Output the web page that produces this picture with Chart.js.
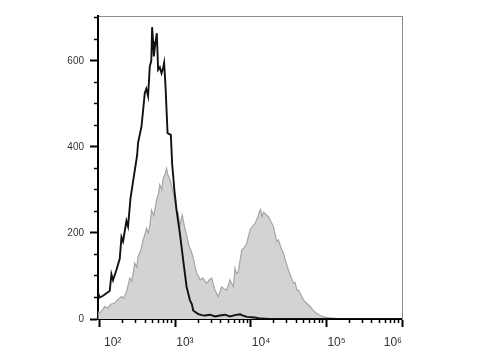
<!DOCTYPE html>
<html lang="en">
<head>
    <meta charset="UTF-8">
    <title>Histogram overlay</title>
    <script src="https://cdn.jsdelivr.net/npm/chart.js"></script>
    <style>
        body { margin: 0; background: #fff; }
        #chart { display: block; }
    </style>
</head>
<body>
    <canvas id="chart" width="480" height="360"></canvas>

    <script>
        // black outline: control (unstained) histogram
        const controlX = [95.5, 100, 110.6, 122.7, 135.7, 143, 150.1, 166.5, 184.2, 194.1, 203.7, 226, 237.3, 255.5, 276.5, 291.2, 312.5, 322.1, 357.3, 395.3, 413.8, 437.1, 460.4, 482, 493.9, 509.3, 520.3, 544.7, 570.2, 593.3, 625, 658.3, 684.9, 712.6, 743.7, 773.8, 790.5, 874.2, 909.6, 973, 1040, 1151, 1273, 1412, 1492, 1562, 1661, 1728, 1820, 1994, 2233, 2469, 2877, 3351, 3904, 4549, 5298, 6172, 7191, 7882, 8906, 10373, 11722, 13243, 17972, 44940, 206900, 1000000];
        const controlY = [60, 50, 54, 60, 65, 104, 90, 114, 140, 190, 180, 228, 215, 280, 320, 345, 380, 410, 447, 525, 535, 518, 587, 600, 678, 645, 610, 640, 664, 579, 585, 571, 580, 595, 540, 470, 432, 428, 360, 300, 253, 199, 137, 75, 58, 44, 34, 20, 17, 12, 9, 8, 10, 6, 8, 10, 6, 9, 11, 8, 5, 4, 3, 1, 0, 0, 0, 0];

        // grey filled: stained sample histogram
        const stainedX = [95.5, 100, 109.6, 116.5, 127.7, 139.9, 158.1, 173.3, 194.1, 208.1, 226, 238.8, 250, 265.7, 291.2, 309.5, 322.1, 349.9, 375.2, 395.3, 416.3, 439.8, 460.4, 485, 520.3, 564.9, 597, 625, 664.3, 691.3, 728, 766.6, 797.8, 822.5, 861, 909.6, 973, 1040, 1099.6, 1151, 1235, 1320, 1412, 1515, 1646, 1765, 1917, 2025, 2120, 2323, 2601, 2790, 3030, 3202, 3351, 3707, 4113, 4411, 4791, 5061, 5298, 5861, 6172, 6463, 6828, 7573, 8124, 8822, 9759, 10530, 11360, 12270, 12960, 13450, 13950, 14740, 15430, 16400, 17070, 17970, 19880, 22060, 23160, 25150, 26980, 29300, 31430, 33610, 36620, 38570, 40620, 42660, 46350, 49700, 55140, 60980, 66840, 74820, 82770, 91520, 105700, 124200, 152400, 1000000];
        const stainedY = [17, 14, 22, 29, 25, 34, 37, 45, 52, 48, 63, 80, 95, 88, 130, 120, 145, 160, 184, 195, 211, 200, 215, 253, 240, 277, 290, 312, 300, 327, 335, 350, 335, 331, 320, 304, 280, 253, 245, 215, 242, 215, 195, 170, 155, 135, 106, 100, 91, 95, 83, 90, 95, 80, 67, 52, 75, 70, 67, 80, 91, 75, 118, 105, 110, 160, 165, 176, 207, 215, 222, 235, 250, 255, 238, 248, 245, 240, 238, 230, 215, 180, 184, 165, 153, 130, 114, 100, 83, 85, 67, 67, 55, 44, 36, 29, 20, 13, 8, 5, 3, 2, 0, 0];

        // axes
        const xMajorTicks = [100, 1000, 10000, 100000, 1000000];
        const xTickLabels = [' 10²', '10³', '10⁴', '10⁵', '10⁶'];
        const xMinorTicks = [];
        for (let d = 100; d < 1000000; d *= 10) {
            for (let k = 2; k <= 9; k++) xMinorTicks.push(k * d);
        }
        const yMajorTicks = [0, 200, 400, 600];
        const yTickLabels = ['0', '200', '400', '600'];
        const yMinorTicks = [50, 100, 150, 250, 300, 350, 450, 500, 550, 650, 700];

        const X_MIN = 95, X_MAX = 1000000, Y_MAX = 704;
        const FONT = 'Liberation Sans, Arial, sans-serif';
        const LABEL_PAD = 8;

        const pairs = (xs, ys) => xs.map((x, i) => ({x: x, y: ys[i]}));
        const setTicks = list => scale => { scale.ticks = list.map(v => ({value: v})); };

        new Chart(document.getElementById('chart'), {
            type: 'line',
            data: {
                datasets: [
                    {
                        label: 'Control',
                        data: pairs(controlX, controlY),
                        borderColor: '#111',
                        borderWidth: 1.9,
                        pointRadius: 0,
                        fill: false,
                        tension: 0,
                        xAxisID: 'x',
                        yAxisID: 'y'
                    },
                    {
                        label: 'Stained',
                        data: pairs(stainedX, stainedY),
                        borderColor: '#a6a6a6',
                        backgroundColor: '#d3d3d3',
                        borderWidth: 1.2,
                        pointRadius: 0,
                        fill: 'origin',
                        tension: 0,
                        xAxisID: 'x',
                        yAxisID: 'y'
                    }
                ]
            },
            options: {
                responsive: false,
                animation: false,
                layout: { padding: { left: 0, right: 78, top: 16, bottom: 0 } },
                plugins: { legend: { display: false }, tooltip: { enabled: false } },
                scales: {
                    x: {
                        type: 'logarithmic', position: 'bottom', weight: 1,
                        min: X_MIN, max: X_MAX,
                        afterBuildTicks: setTicks(xMajorTicks),
                        afterFit: s => { s.height = 41; },
                        ticks: {
                            autoSkip: false, maxRotation: 0, align: 'start', labelOffset: 1, padding: LABEL_PAD,
                            color: '#333', font: { family: FONT, size: 12 },
                            callback: (v, i) => i < xTickLabels.length - 1 ? xTickLabels[i] : ''
                        },
                        grid: { drawOnChartArea: false, tickLength: 8, tickWidth: 2, tickColor: '#000' },
                        border: { color: '#000', width: 2 }
                    },
                    // last decade label sits right-aligned at the axis end
                    xEnd: {
                        axis: 'x', type: 'logarithmic', position: { y: 0 },
                        min: X_MIN, max: X_MAX,
                        afterBuildTicks: setTicks([X_MAX]),
                        afterFit: s => { s.height = 0; },
                        ticks: {
                            autoSkip: false, maxRotation: 0, align: 'end', padding: LABEL_PAD + 8,
                            color: '#333', font: { family: FONT, size: 12 },
                            callback: () => xTickLabels[xTickLabels.length - 1]
                        },
                        grid: { drawOnChartArea: false, drawTicks: false },
                        border: { display: false }
                    },
                    x2: {
                        type: 'logarithmic', position: 'bottom', weight: 0,
                        min: X_MIN, max: X_MAX,
                        afterBuildTicks: setTicks(xMinorTicks),
                        afterFit: s => { s.height = 0; },
                        ticks: { display: false },
                        grid: { drawOnChartArea: false, tickLength: 4, tickWidth: 1.5, tickColor: '#000' },
                        border: { display: false }
                    },
                    xTop: {
                        type: 'logarithmic', position: 'top',
                        min: X_MIN, max: X_MAX,
                        afterFit: s => { s.height = 0; },
                        ticks: { display: false },
                        grid: { drawOnChartArea: false, drawTicks: false },
                        border: { color: '#8c8c8c', width: 1 }
                    },
                    y: {
                        type: 'linear', position: 'left', weight: 1,
                        min: 0, max: Y_MAX,
                        afterBuildTicks: setTicks(yMajorTicks),
                        afterFit: s => { s.width = 98; },
                        ticks: {
                            autoSkip: false, padding: 6,
                            color: '#333', font: { family: FONT, size: 10 },
                            callback: (v, i) => yTickLabels[i]
                        },
                        grid: { drawOnChartArea: false, tickLength: 8, tickWidth: 2, tickColor: '#000' },
                        border: { color: '#000', width: 2 }
                    },
                    y2: {
                        type: 'linear', position: 'left', weight: 0,
                        min: 0, max: Y_MAX,
                        afterBuildTicks: setTicks(yMinorTicks),
                        afterFit: s => { s.width = 0; },
                        ticks: { display: false },
                        grid: { drawOnChartArea: false, tickLength: 4, tickWidth: 1.5, tickColor: '#000' },
                        border: { display: false }
                    },
                    yRight: {
                        type: 'linear', position: 'right',
                        min: 0, max: Y_MAX,
                        afterFit: s => { s.width = 0; },
                        ticks: { display: false },
                        grid: { drawOnChartArea: false, drawTicks: false },
                        border: { color: '#8c8c8c', width: 1 }
                    }
                }
            }
        });
    </script>
</body>
</html>
